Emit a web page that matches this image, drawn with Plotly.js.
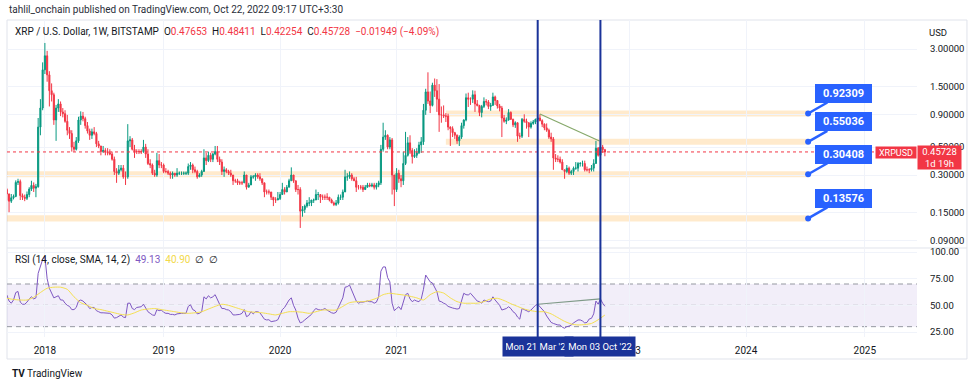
<!DOCTYPE html>
<html>
<head>
<meta charset="utf-8">
<script src="https://cdn.plot.ly/plotly-3.0.1.min.js"></script>
<style>
html,body{margin:0;padding:0;background:#fff;}
#chart{width:975px;height:385px;}
</style>
</head>
<body>
<div id="chart"></div>
<script>
// ---------- DATA (weekly XRP/USD, Bitstamp, weeks starting Mon 2017-09-04) ----------
const firstWeek = '2017-09-04';
const firstOpen = 0.230;

const close = [
  // 2017
  0.212,0.186,0.198,0.203,0.262,0.266,0.206,0.200,0.196,0.210,0.232,0.248,0.236,0.242,0.72,1.02,2.05,
  // 2018
  2.65,1.87,1.40,1.30,0.82,1.02,1.10,0.95,0.92,0.80,0.68,0.64,0.50,0.48,0.56,0.82,0.88,0.84,0.74,0.67,0.62,0.66,0.64,0.53,0.51,0.46,
  0.47,0.46,0.45,0.44,0.40,0.32,0.31,0.33,0.34,0.29,0.29,0.56,0.57,0.48,0.46,0.46,0.46,0.46,0.50,0.44,0.37,0.36,0.31,0.30,0.39,0.36,
  // 2019
  0.36,0.32,0.32,0.31,0.30,0.31,0.30,0.31,0.31,0.31,0.31,0.31,0.35,0.36,0.33,0.32,0.29,0.30,0.32,0.41,0.39,0.43,0.40,0.44,0.46,0.40,
  0.38,0.32,0.33,0.32,0.31,0.30,0.27,0.27,0.26,0.26,0.26,0.30,0.24,0.25,0.29,0.29,0.30,0.29,0.28,0.26,0.22,0.22,0.22,0.20,0.19,0.19,0.195,
  // 2020
  0.21,0.23,0.22,0.24,0.27,0.30,0.27,0.23,0.23,0.155,0.16,0.17,0.18,0.18,0.19,0.19,0.21,0.21,0.20,0.20,0.20,0.20,0.19,0.18,0.175,0.18,
  0.20,0.20,0.22,0.29,0.29,0.30,0.28,0.27,0.24,0.24,0.24,0.23,0.24,0.25,0.245,0.25,0.24,0.25,0.26,0.48,0.60,0.62,0.50,0.57,0.30,0.23,
  // 2021
  0.31,0.28,0.27,0.37,0.43,0.54,0.47,0.42,0.43,0.45,0.52,0.55,0.98,1.37,1.16,1.07,1.55,1.40,1.20,0.90,0.90,0.88,0.88,0.72,0.70,0.65,
  0.62,0.56,0.60,0.74,0.82,1.23,1.20,1.20,1.30,1.10,1.07,0.94,1.05,1.15,1.14,1.05,1.07,1.25,1.17,1.06,1.02,0.85,0.80,0.82,0.94,0.83,
  // 2022
  0.75,0.78,0.61,0.61,0.83,0.80,0.78,0.72,0.77,0.79,0.83,0.85,0.81,0.76,0.71,0.68,0.60,0.58,0.41,0.40,0.40,0.38,0.33,0.32,0.34,0.31,
  0.32,0.34,0.34,0.37,0.37,0.37,0.33,0.33,0.33,0.34,0.37,0.49,0.43,0.50,0.47653,0.45728
];
const high = [
  // 2017
  0.236,0.214,0.212,0.210,0.272,0.280,0.276,0.214,0.210,0.222,0.240,0.270,0.262,0.255,0.85,1.20,2.35,
  // 2018
  3.35,2.90,2.00,1.60,1.35,1.08,1.20,1.15,1.02,0.98,0.90,0.72,0.68,0.55,0.60,0.87,0.96,0.95,0.87,0.79,0.70,0.70,0.72,0.66,0.56,0.51,
  0.51,0.49,0.49,0.48,0.46,0.42,0.34,0.36,0.36,0.36,0.32,0.76,0.61,0.59,0.52,0.48,0.48,0.48,0.57,0.53,0.48,0.40,0.37,0.33,0.45,0.44,
  // 2019
  0.38,0.37,0.34,0.33,0.32,0.32,0.31,0.34,0.32,0.32,0.32,0.32,0.37,0.38,0.37,0.35,0.33,0.31,0.33,0.48,0.45,0.46,0.45,0.45,0.51,0.51,
  0.42,0.40,0.35,0.34,0.33,0.33,0.30,0.28,0.28,0.27,0.27,0.32,0.30,0.26,0.30,0.30,0.31,0.31,0.31,0.28,0.26,0.23,0.23,0.22,0.20,0.20,0.22,
  // 2020
  0.22,0.26,0.24,0.25,0.28,0.345,0.30,0.27,0.25,0.24,0.17,0.175,0.19,0.20,0.19,0.195,0.23,0.22,0.21,0.21,0.21,0.215,0.20,0.195,0.185,0.19,
  0.21,0.21,0.23,0.33,0.31,0.32,0.31,0.29,0.29,0.25,0.25,0.25,0.25,0.26,0.26,0.26,0.26,0.26,0.27,0.52,0.78,0.68,0.63,0.60,0.59,0.30,
  // 2021
  0.34,0.33,0.30,0.46,0.66,0.60,0.62,0.49,0.48,0.49,0.55,0.60,1.10,1.45,1.96,1.38,1.62,1.75,1.73,1.58,1.05,1.07,0.93,0.92,0.73,0.73,
  0.66,0.63,0.62,0.78,0.83,1.33,1.35,1.24,1.41,1.40,1.18,1.08,1.08,1.24,1.20,1.18,1.12,1.35,1.28,1.18,1.10,1.06,0.90,0.86,1.00,0.96,
  // 2022
  0.84,0.80,0.78,0.65,0.85,0.91,0.84,0.77,0.80,0.82,0.84,0.87,0.91,0.83,0.77,0.77,0.70,0.65,0.60,0.44,0.43,0.42,0.40,0.33,0.36,0.35,
  0.33,0.35,0.38,0.38,0.38,0.39,0.39,0.35,0.34,0.36,0.40,0.56,0.50,0.56,0.52,0.48411
];
const low = [
  // 2017
  0.188,0.152,0.180,0.192,0.200,0.250,0.190,0.190,0.186,0.190,0.200,0.224,0.220,0.200,0.238,0.62,0.98,
  // 2018
  1.90,1.65,1.05,1.15,0.75,0.56,0.95,0.88,0.86,0.78,0.62,0.58,0.46,0.46,0.47,0.54,0.75,0.80,0.70,0.64,0.57,0.58,0.62,0.50,0.49,0.43,
  0.45,0.43,0.43,0.43,0.39,0.30,0.26,0.30,0.32,0.28,0.25,0.28,0.50,0.47,0.41,0.44,0.44,0.44,0.45,0.41,0.36,0.34,0.30,0.29,0.29,0.34,
  // 2019
  0.34,0.31,0.31,0.30,0.28,0.28,0.29,0.29,0.30,0.30,0.30,0.30,0.30,0.33,0.31,0.31,0.28,0.29,0.29,0.32,0.36,0.38,0.38,0.38,0.43,0.38,
  0.36,0.30,0.29,0.31,0.30,0.29,0.25,0.26,0.25,0.25,0.25,0.26,0.23,0.24,0.25,0.28,0.27,0.28,0.27,0.25,0.20,0.21,0.21,0.19,0.17,0.18,0.19,
  // 2020
  0.19,0.21,0.21,0.22,0.24,0.27,0.26,0.22,0.21,0.114,0.14,0.15,0.165,0.17,0.17,0.18,0.19,0.19,0.18,0.19,0.19,0.19,0.185,0.18,0.17,0.17,
  0.175,0.19,0.19,0.22,0.27,0.28,0.27,0.27,0.22,0.23,0.23,0.22,0.23,0.24,0.24,0.24,0.23,0.23,0.24,0.25,0.46,0.57,0.48,0.48,0.21,0.17,
  // 2021
  0.22,0.26,0.24,0.25,0.36,0.42,0.44,0.37,0.41,0.41,0.44,0.45,0.52,0.90,1.10,0.93,1.05,1.25,0.95,0.66,0.78,0.85,0.79,0.68,0.51,0.60,
  0.58,0.53,0.51,0.58,0.70,0.80,1.04,1.08,1.12,0.95,1.05,0.88,0.86,1.02,1.07,1.00,0.97,1.07,1.08,1.01,0.96,0.60,0.78,0.76,0.81,0.82,
  // 2022
  0.72,0.71,0.55,0.58,0.59,0.78,0.70,0.60,0.70,0.75,0.76,0.80,0.80,0.72,0.68,0.66,0.58,0.55,0.33,0.38,0.38,0.37,0.33,0.28,0.31,0.30,
  0.30,0.30,0.33,0.32,0.35,0.35,0.32,0.32,0.31,0.32,0.32,0.37,0.42,0.43,0.45,0.42254
];
// RSI(14)
const rsi = [
  59.7,54,52,55,62,63,53,51,51,53,56,58,56,57,80,86,93,
  96,75,66,62,57,58,59,55,55,52,50,49,46,46,48,54,55,54,52,50,47,48,48,45,44,43,43,43,42.5,42.5,41,38,38.5,40,41,39,38.5,52,52,47,46,48,48.5,48.7,51,47,44,42.5,41,40.5,46,45,
  45.6,43.5,42.5,42.5,41.5,41.5,41,42,42.5,42.5,42.5,42.5,49,50.5,46,45,42,42.5,44,58,56,59,57,58,60,55,51,47,47,46,45.6,44,41,41,41,41.5,42.5,46,39.4,40.5,44,42,44,44,43,40,37,36.3,36.5,34.7,35,35.5,36.5,
  42,46,48,52,55,57,50,45.6,38,33.5,34.5,36.3,38,40,41.5,45,47,46,45.6,46,47,45.5,44,43,42.5,43.5,48,52,57,67,67.5,69,64,59.7,54,52,53,53,53.4,54,53.4,53.4,52,53,58,82,86,86,76,72,52,45,
  47,48.7,46,53,60,61.3,56,53.4,55,54,53.4,56,65,78.4,75,72,71,66,62.8,54,53.4,52,51,49,48,47.5,47,46.5,47,55,61.3,60,59.7,61.3,59,56.6,54,53.4,52,55,54,53.4,54,58,55,52,50,45.6,46,47,48.7,47,
  44,42.5,39,37,47,46,45.6,44,45.6,48,50,51,48.7,46,44,40,37,34,33,32,31.6,31.5,29.5,28.5,30,30.5,31.6,33.5,35.3,36.3,36.3,35.3,33.5,34,37.2,37.8,42,54,51,56,52,49.13
];
// RSI-based SMA(14), read every 3rd week
const smaEvery = 3;
const rsiSma = [
  56.6,55.5,55,55,57.5,62,66,67,67,65,58,52.5,50,47,46,44.5,43,41.5,41,43,45.6,46.5,47,46,45,44,43,42.5,43,44,
  46.5,49,51,50,48,46,44,43.5,43,42,41,42.5,44,44,43.5,42.5,44,45.6,45.6,45.6,49,52.5,53.4,53.4,54.5,56.6,60,61.3,60.5,59.7,
  58.5,57,55,60,62.8,61.5,57,53.5,52,52,52,53.5,56,56.6,54.5,51.5,49,46.5,45,44,44,42,38.5,35,32.5,31.6,32,33,36.5,40.9
];
// Drawn levels
const levels = [0.92309, 0.55036, 0.30408, 0.13576];
const levelStart = ['2021-06-07', '2021-06-07', '2017-09-04 14:00', '2017-09-04 14:00'];
const levelEnd = '2024-07-13';
const markDates = ['2022-03-21', '2022-10-03'];
const markLabels = ["Mon 21 Mar '22", "Mon 03 Oct '22"];
const priceTrend = {x: ['2022-03-28', '2022-09-30'], y: [0.914, 0.558]};
const rsiTrend = {x: ['2022-03-21', '2022-10-03'], y: [51, 56]};
const lastPrice = 0.45728;
const priceTicks = [0.09, 0.15, 0.3, 0.5, 0.9, 1.5, 3];
const priceTickText = ['0.09000', '0.15000', '0.30000', '0.50000', '0.90000', '1.50000', '3.00000'];
const rsiTicks = [25, 50, 75, 100];
const rsiTickText = ['25.00', '50.00', '75.00', '100.00'];
// 2022 label is hidden under the date marker labels in the reference
const yearTicks = ['2018-01-01','2019-01-07','2020-01-06','2021-01-04','2023-01-02','2024-01-01','2025-01-06'];
const yearLabels = ['2018','2019','2020','2021','2023','2024','2025'];

// ---------- BUILD ----------
const dates = close.map((_, i) => {
  const d = new Date(firstWeek + 'T00:00:00Z');
  d.setUTCDate(d.getUTCDate() + 7 * i);
  return d.toISOString().slice(0, 10);
});
const open = [firstOpen].concat(close.slice(0, -1)); // weekly open = previous weekly close
const smaDates = rsiSma.map((_, k) => dates[k * smaEvery]);

const FONT = 'Roboto, "Liberation Sans", Arial, sans-serif';
const TXT = '#131722';
const RED = '#f23645';
const GREEN = '#089981';
const NAVY = '#1a3399';
const GRID = '#f0f3fa';
const xRange = ['2017-09-04 14:00', '2025-06-18 07:00'];

const traces = [
  {
    type: 'candlestick', x: dates, open: open, high: high, low: low, close: close,
    xaxis: 'x', yaxis: 'y', whiskerwidth: 0, hoverinfo: 'skip', showlegend: false,
    increasing: {line: {color: GREEN, width: 1}, fillcolor: GREEN},
    decreasing: {line: {color: RED, width: 1}, fillcolor: RED}
  },
  {
    type: 'scatter', mode: 'lines', x: dates, y: rsi, xaxis: 'x', yaxis: 'y2',
    line: {color: '#7e57c2', width: 1}, hoverinfo: 'skip', showlegend: false
  },
  {
    type: 'scatter', mode: 'lines', x: smaDates, y: rsiSma, xaxis: 'x', yaxis: 'y2',
    line: {color: '#f5e04f', width: 1, shape: 'spline', smoothing: 0.6}, hoverinfo: 'skip', showlegend: false
  }
];

const shapes = [];
// frame
shapes.push({type: 'rect', xref: 'paper', yref: 'paper', x0: 0, x1: 1.0549, y0: -0.0694, y1: 1,
  line: {color: '#e0e3eb', width: 1}, fillcolor: 'rgba(0,0,0,0)', layer: 'below'});
// pane separator
shapes.push({type: 'line', xref: 'paper', yref: 'paper', x0: 0, x1: 1.0549, y0: 0.2808, y1: 0.2808,
  line: {color: '#e0e3eb', width: 1}, layer: 'below'});
// RSI band + dashed levels
shapes.push({type: 'rect', xref: 'paper', yref: 'y2', x0: 0, x1: 1, y0: 30, y1: 70,
  fillcolor: 'rgba(126,87,194,0.1)', line: {width: 0}, layer: 'below'});
[70, 50, 30].forEach(v => shapes.push({type: 'line', xref: 'paper', yref: 'y2', x0: 0, x1: 1, y0: v, y1: v,
  line: {color: '#9598a1', width: 1, dash: '5px,4px'}, layer: 'below'}));
// level bands
levels.forEach((lv, k) => shapes.push({type: 'rect', xref: 'x', yref: 'y', x0: levelStart[k], x1: levelEnd,
  y0: lv / 1.057, y1: lv * 1.057, fillcolor: 'rgba(255,152,0,0.2)', line: {width: 0}, layer: 'below'}));
// last price dotted line
shapes.push({type: 'line', xref: 'paper', yref: 'y', x0: 0, x1: 1, y0: lastPrice, y1: lastPrice,
  line: {color: RED, width: 1, dash: 'dot'}, layer: 'above'});
// trend lines
shapes.push({type: 'line', xref: 'x', yref: 'y', x0: priceTrend.x[0], x1: priceTrend.x[1], y0: priceTrend.y[0], y1: priceTrend.y[1],
  line: {color: '#86a86a', width: 1.2}, layer: 'above'});
shapes.push({type: 'line', xref: 'x', yref: 'y2', x0: rsiTrend.x[0], x1: rsiTrend.x[1], y0: rsiTrend.y[0], y1: rsiTrend.y[1],
  line: {color: '#7f9a88', width: 1.2}, layer: 'above'});
// vertical date markers
markDates.forEach(d => shapes.push({type: 'line', xref: 'x', yref: 'paper', x0: d, x1: d, y0: -0.03, y1: 1,
  line: {color: NAVY, width: 2}, layer: 'above'}));

// annotations on a log axis take log10 positions
const L10 = v => Math.log10(v);
const annotations = [
  {xref: 'paper', yref: 'paper', x: 0, y: 1.0347, xanchor: 'left', yanchor: 'middle', showarrow: false,
   text: 'tahlil_onchain published on TradingView.com, Oct 22, 2022 09:17 UTC+3:30', font: {family: FONT, size: 10, color: '#2a2e39'}},
  {xref: 'paper', yref: 'paper', x: 0.0066, y: 0.9621, xanchor: 'left', yanchor: 'middle', showarrow: false,
   text: 'XRP / U.S. Dollar, 1W, BITSTAMP  O<span style="color:' + RED + '">0.47653</span>  H<span style="color:' + RED + '">0.48411</span>  L<span style="color:' + RED + '">0.42254</span>  C<span style="color:' + RED + '">0.45728  −0.01949 (−4.09%)</span>',
   font: {family: FONT, size: 10, color: TXT}},
  {xref: 'paper', yref: 'paper', x: 1.011, y: 0.9621, xanchor: 'left', yanchor: 'middle', showarrow: false,
   text: 'USD', font: {family: FONT, size: 9.5, color: TXT}},
  {xref: 'paper', yref: 'paper', x: 0.0066, y: 0.2429, xanchor: 'left', yanchor: 'middle', showarrow: false,
   text: 'RSI (14, close, SMA, 14, 2)  <span style="color:#7e57c2">49.13</span>  <span style="color:#f2d94a">40.90</span>  ∅  ∅',
   font: {family: FONT, size: 10, color: TXT}},
  {xref: 'paper', yref: 'paper', x: 0.003, y: -0.1136, xanchor: 'left', yanchor: 'middle', showarrow: false,
   text: '<b>TV</b> TradingView', font: {family: FONT, size: 10, color: '#131722'}},
  // last price labels
  {xref: 'paper', yref: 'y', x: 1, y: L10(lastPrice), xanchor: 'right', yanchor: 'middle', yshift: -1, showarrow: false,
   text: 'XRPUSD', bgcolor: RED, borderpad: 1, font: {family: FONT, size: 9, color: '#ffffff'}, width: 38, height: 9},
  {xref: 'paper', yref: 'y', x: 1, y: L10(lastPrice), xanchor: 'left', yanchor: 'middle', yshift: -5.7, showarrow: false,
   text: '0.45728<br>1d 19h', bgcolor: RED, borderpad: 1, font: {family: FONT, size: 9.5, color: '#ffffff'}, width: 41, height: 21}
];
levels.forEach(lv => annotations.push({
  xref: 'x', yref: 'y', x: levelEnd, y: L10(lv), ax: 35, ay: -20, showarrow: true,
  arrowhead: 6, arrowsize: 0.6, arrowwidth: 2.5, arrowcolor: '#2962ff', standoff: 0, startstandoff: 0,
  text: '<b>' + lv.toFixed(5) + '</b>', bgcolor: '#2962ff', bordercolor: '#2962ff', borderwidth: 1, borderpad: 2,
  width: 51, height: 13, font: {family: FONT, size: 11, color: '#ffffff'}
}));
markDates.forEach((d, k) => annotations.push({
  xref: 'x', yref: 'paper', x: d, y: -0.0315, xanchor: 'center', yanchor: 'middle', showarrow: false,
  text: markLabels[k], bgcolor: NAVY, borderpad: 3, width: 64, height: 13,
  font: {family: FONT, size: 9.5, color: '#ffffff'}
}));

const layout = {
  width: 975, height: 385,
  margin: {l: 7, r: 58, t: 20, b: 48, pad: 0},
  paper_bgcolor: '#ffffff', plot_bgcolor: '#ffffff',
  font: {family: FONT, size: 10, color: TXT},
  showlegend: false,
  dragmode: false,
  xaxis: {
    type: 'date', anchor: 'y2', domain: [0, 1], range: xRange,
    tickvals: yearTicks, ticktext: yearLabels, tickangle: 0,
    showgrid: true, gridcolor: GRID, gridwidth: 1, zeroline: false, showline: false,
    ticks: 'outside', ticklen: 4, tickcolor: 'rgba(0,0,0,0)',
    tickfont: {family: FONT, size: 10, color: TXT},
    rangeslider: {visible: false}, fixedrange: true
  },
  yaxis: {
    type: 'log', domain: [0.2839, 1], anchor: 'x', side: 'right',
    range: [-1.0943, 0.7073], tickvals: priceTicks, ticktext: priceTickText,
    showgrid: true, gridcolor: GRID, zeroline: false, showline: false,
    ticks: 'outside', ticklen: 10, tickcolor: 'rgba(0,0,0,0)',
    tickfont: {family: FONT, size: 9.5, color: TXT}, fixedrange: true
  },
  yaxis2: {
    domain: [0, 0.2776], anchor: 'x', side: 'right',
    range: [20.31, 102.81], tickvals: rsiTicks, ticktext: rsiTickText,
    showgrid: true, gridcolor: GRID, zeroline: false, showline: false,
    ticks: 'outside', ticklen: 10, tickcolor: 'rgba(0,0,0,0)',
    tickfont: {family: FONT, size: 9.5, color: TXT}, fixedrange: true
  },
  shapes: shapes,
  annotations: annotations
};

Plotly.newPlot('chart', traces, layout, {staticPlot: true, displayModeBar: false});
</script>
</body>
</html>
